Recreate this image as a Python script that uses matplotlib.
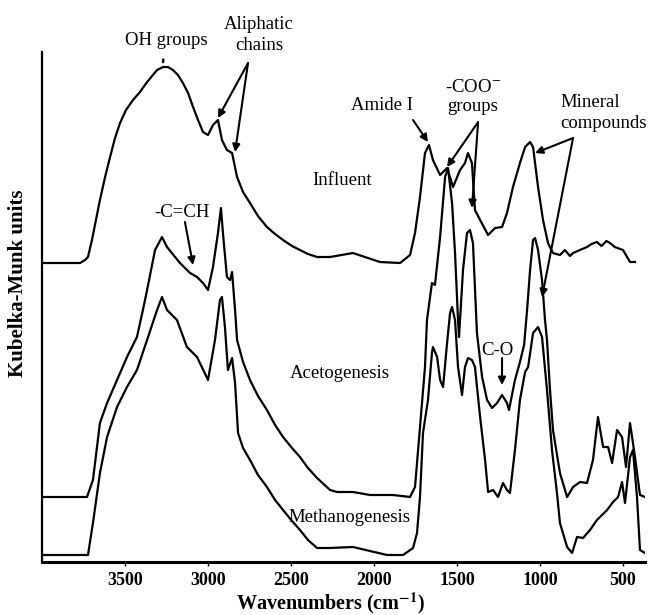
import numpy as np
import matplotlib
matplotlib.use('Agg')
from matplotlib import pyplot as plt

plt.rcParams['font.family'] = ['Liberation Serif', 'DejaVu Serif']
plt.rcParams['mathtext.fontset'] = 'stix'

## spectra (wavenumber, Kubelka-Munk in arbitrary units)
wn_inf = [3994, 3771, 3741, 3723, 3699, 3675, 3651, 3620, 3590, 3560, 3530, 3494, 3452, 3410,
          3367, 3337, 3307, 3271, 3241, 3211, 3181, 3151, 3120, 3090, 3060, 3030,
          3000, 2970, 2940, 2916, 2886, 2855, 2825, 2789, 2747, 2699, 2645, 2596, 2548, 2494,
          2446, 2398, 2343, 2265, 2127,
          1964, 1843, 1783, 1753, 1723, 1693, 1669, 1645, 1602, 1560, 1524, 1482, 1452, 1434,
          1410, 1392, 1361, 1313, 1271, 1229, 1199, 1163, 1121, 1090, 1060, 1042, 1012, 982,
          952, 922, 880, 850, 820, 801, 760, 717, 690, 657, 630, 600, 578, 550, 500, 458, 428]
km_inf = [299, 299, 302, 305, 322, 342, 362, 385, 405, 424, 439, 452, 462, 470,
          480, 486, 492, 495, 495, 492, 487, 479, 469, 455, 442, 430,
          427, 437, 442, 422, 412, 409, 385, 370, 359, 346, 335, 328, 322, 316,
          312, 308, 305, 305, 309,
          300, 299, 307, 329, 365, 409, 417, 402, 387, 394, 375, 392, 399, 409,
          399, 352, 342, 327, 334, 335, 349, 375, 399, 415, 420, 415, 375, 342,
          319, 309, 307, 312, 306, 309, 312, 315, 318, 320, 316, 321, 319, 315, 312, 300, 300]

wn_ace = [3994, 3729, 3693, 3651, 3608, 3548, 3488, 3428, 3392, 3367, 3319, 3277, 3247, 3169,
          3108, 3066, 3030, 3000, 2970, 2940, 2922, 2910, 2886, 2867, 2855, 2837, 2825, 2789,
          2747, 2699, 2645, 2596, 2548, 2494, 2446, 2398, 2343, 2265, 2223, 2127, 2024, 1886,
          1783, 1753, 1723, 1693, 1681,
          1651, 1633, 1602, 1572, 1554, 1530, 1512, 1494, 1488, 1464, 1440, 1422, 1404, 1380,
          1349, 1319, 1289, 1259, 1229, 1199, 1187, 1151, 1121, 1096, 1078, 1060, 1042, 1030,
          1012, 988, 970, 958, 940, 922, 880, 837, 801, 759, 717, 681, 651, 620, 590, 566,
          536, 506, 482, 458, 428, 398, 368]
km_ace = [65, 65, 82, 139, 159, 182, 205, 225, 252, 272, 312, 325, 315, 299,
          289, 285, 279, 272, 295, 329, 354, 329, 285, 282, 290, 252, 222, 200,
          182, 166, 152, 137, 125, 114, 105, 94, 84, 72, 70, 70, 67, 67,
          65, 75, 135, 195, 242,
          279, 277, 325, 385, 394, 359, 309, 242, 225, 292, 329, 332, 319, 229,
          185, 162, 154, 159, 167, 159, 152, 182, 200, 217, 252, 292, 322, 324,
          312, 282, 242, 222, 172, 132, 89, 65, 75, 80, 79, 102, 145, 115, 115, 99,
          132, 125, 95, 139, 105, 67, 65]

wn_met = [3994, 3723, 3693, 3651, 3608, 3548, 3488, 3428, 3367, 3307, 3277, 3247, 3187, 3127,
          3066, 3000, 2958, 2928, 2916, 2898, 2880, 2855, 2837, 2819, 2789, 2747, 2699, 2645,
          2596, 2548, 2494, 2446, 2398,
          2343, 2265, 2127, 1922, 1825, 1765, 1741, 1723, 1705, 1675, 1651, 1645, 1620, 1602,
          1584, 1560, 1542, 1530, 1512, 1494, 1470, 1452, 1434, 1410, 1392, 1361, 1331, 1313,
          1283, 1253, 1223, 1199, 1181, 1151, 1121, 1090, 1072, 1042, 1012, 988, 958, 928,
          898, 880, 837, 807, 777, 741, 699, 657, 596, 560, 530, 506, 488, 458, 440, 416,
          398, 368]
km_met = [7, 7, 39, 89, 125, 155, 175, 192, 222, 252, 265, 252, 242, 215,
          205, 182, 222, 262, 265, 235, 192, 204, 179, 129, 114, 102, 87, 75,
          62, 52, 41, 32, 22,
          14, 14, 15, 7, 7, 14, 29, 65, 129, 162, 209, 215, 205, 182,
          175, 219, 249, 255, 242, 195, 167, 195, 204, 202, 195, 145, 102, 70,
          72, 65, 79, 72, 69, 112, 162, 190, 195, 229, 235, 225, 172, 112,
          69, 39, 15, 9, 25, 24, 32, 42, 52, 60, 65, 80, 59, 105, 112, 65,
          12, 9]

xticks = [3500, 3000, 2500, 2000, 1500, 1000, 500]

fig = plt.figure(figsize=(6.48, 6.15), dpi=100)
ax = fig.add_axes([0.0648, 0.0862, 0.9305, 0.8292])

for wn, km in [(wn_inf, km_inf), (wn_ace, km_ace), (wn_met, km_met)]:
    ax.plot(wn, km, color='black', lw=1.6, solid_joinstyle='round')

ax.set_xlim(4000, 368)
ax.set_ylim(0, 510)
ax.set_xticks(xticks)
ax.set_yticks([])
ax.tick_params(axis='x', direction='out', length=3, width=1, pad=4, labelsize=13)
for lab in ax.get_xticklabels():
    lab.set_fontweight('bold')
ax.spines['top'].set_visible(False)
ax.spines['right'].set_visible(False)
ax.spines['left'].set_linewidth(1.6)
ax.spines['bottom'].set_linewidth(2.2)

ax.set_xlabel(r'Wavenumbers (cm$^{\mathbf{-1}}$)', fontsize=14.5, fontweight='bold')
ax.xaxis.set_label_coords(0.479, -0.057)
ax.set_ylabel('Kubelka-Munk units', fontsize=15, fontweight='bold')
ax.yaxis.set_label_coords(-0.023, 0.547)

# labels of the spectra
txt = dict(fontsize=13.5, ha='center', va='center')
ax.text(2193, 382, 'Influent', **txt)
ax.text(2205, 189, 'Acetogenesis', **txt)
ax.text(2145, 44, 'Methanogenesis', **txt)

# band assignments
arr = dict(arrowstyle='-|>', color='black', lw=1.5, mutation_scale=11, shrinkA=0, shrinkB=0)
ax.annotate('OH groups', xy=(3271, 500), xytext=(3253, 522), annotation_clip=False,
            arrowprops=dict(arrowstyle='-', color='black', lw=1.8, shrinkA=6, shrinkB=0), **txt)

ax.text(2693, 527, 'Aliphatic\nchains', linespacing=1.3, clip_on=False, **txt)
ax.annotate('', xy=(2837, 410), xytext=(2759, 499), arrowprops=arr, annotation_clip=False)
ax.annotate('', xy=(2940, 444), xytext=(2759, 499), arrowprops=arr, annotation_clip=False)

ax.text(3157, 350, '-C=CH', **txt)
ax.annotate('', xy=(3090, 297), xytext=(3139, 340), arrowprops=arr)

ax.text(1952, 457, 'Amide I', **txt)
ax.annotate('', xy=(1675, 420), xytext=(1765, 442), arrowprops=arr)

ax.text(1404, 465, '-COO$^{-}$\ngroups', linespacing=1.2, **txt)
ax.annotate('', xy=(1560, 395), xytext=(1373, 440), arrowprops=arr)
ax.annotate('', xy=(1410, 354), xytext=(1373, 440), arrowprops=arr)

ax.text(880, 449, 'Mineral\ncompounds', fontsize=13.5, ha='left', va='center', linespacing=1.3)
ax.annotate('', xy=(1030, 409), xytext=(801, 424), arrowprops=arr)
ax.annotate('', xy=(988, 265), xytext=(801, 424), arrowprops=arr)

ax.text(1259, 212, 'C-O', **txt)
ax.annotate('', xy=(1229, 177), xytext=(1229, 204), arrowprops=arr)

plt.savefig('out.png', dpi=100)
